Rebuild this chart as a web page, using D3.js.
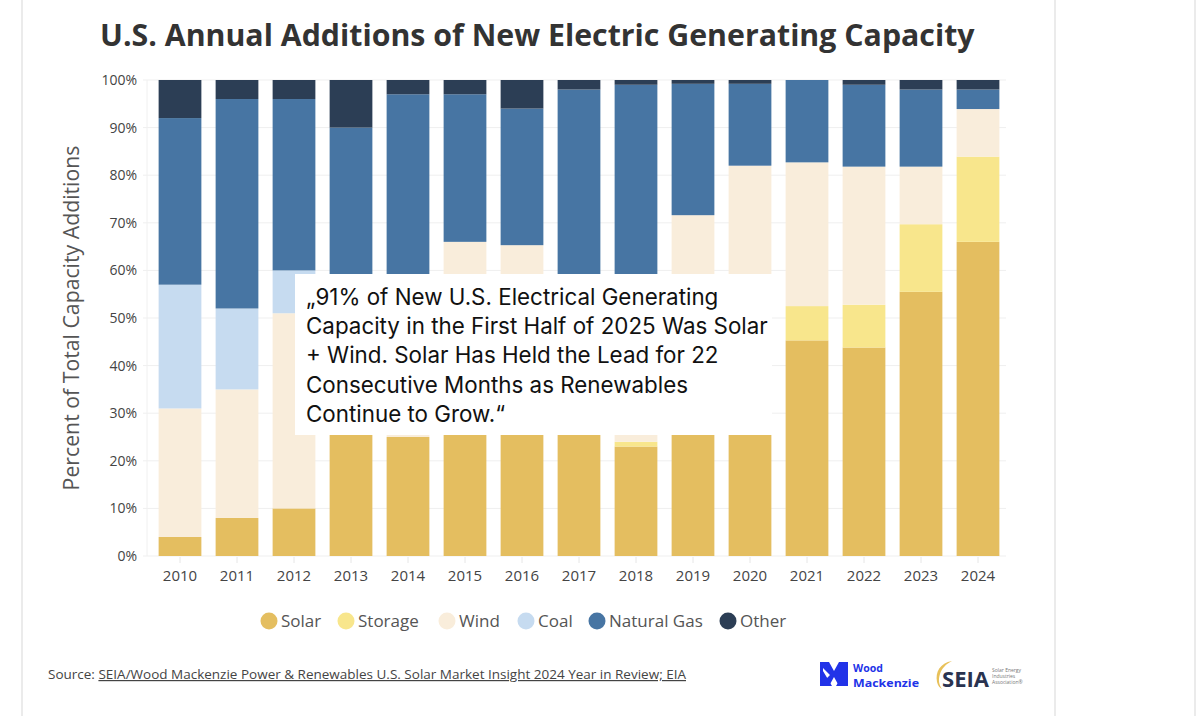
<!DOCTYPE html>
<html lang="en">
<head>
  <meta charset="UTF-8">
  <title>U.S. Annual Additions of New Electric Generating Capacity</title>
  <script src="https://d3js.org/d3.v7.min.js"></script>
  <style>
    body { margin: 0; background: #fff; }
    svg { display: block; font-family: "Open Sans", sans-serif; }
    .quote { font-family: Inter, "Noto Sans", sans-serif; }
  </style>
</head>
<body>
  <svg width="1200" height="716"></svg>

  <script>
    const width = 1200;
    const height = 716;

    // data (percent of total additions per year)
    const years   = ["2010","2011","2012","2013","2014","2015","2016","2017","2018","2019","2020","2021","2022","2023","2024"];
    const solar   = [4,   8,   10,  29,  25,  30,  39,  30,  23,  38,   43,   45.3, 43.8, 55.5, 66];
    const storage = [0,   0,   0,   0,   0,   0,   0,   0,   1,   1,    2,    7.2,  9,    14.2, 17.9];
    const wind    = [27,  27,  41,  7,   27,  36,  26.3,25,  21,  32.6, 37,   30.2, 29,   12.1, 10];
    const coal    = [26,  17,  9,   10,  1,   0,   0,   0,   0,   0,    0,    0,    0,    0,    0];
    const gas     = [35,  44,  36,  44,  44,  31,  28.7,43,  54,  27.6, 17.2, 17.3, 17.2, 16.2, 4.1];
    const other   = [8,   4,   4,   10,  3,   3,   6,   2,   1,   0.8,  0.8,  0,    1,    2,    2];

    const seriesNames = ["Solar", "Storage", "Wind", "Coal", "Natural Gas", "Other"];
    const seriesColors = ["#e4be60", "#f8e68c", "#f9eddb", "#c6dbf0", "#4775a3", "#2c3e55"];
    const yTicks = [0, 10, 20, 30, 40, 50, 60, 70, 80, 90, 100];

    const table = years.map((y, i) => ({
      year: y,
      "Solar": solar[i], "Storage": storage[i], "Wind": wind[i],
      "Coal": coal[i], "Natural Gas": gas[i], "Other": other[i]
    }));

    const svg = d3.select("svg").attr("width", width).attr("height", height);

    // frame lines of the page
    [22, 1055, 1195].forEach(x => {
      svg.append("line")
         .attr("x1", x).attr("x2", x).attr("y1", 0).attr("y2", height)
         .attr("stroke", "#e4e4e4").attr("stroke-width", 1.5);
    });

    // fit a text element to a given width by changing its font size
    function fitWidth(sel, target) {
      const fs = parseFloat(sel.attr("font-size"));
      const w = sel.node().getComputedTextLength();
      sel.attr("font-size", fs * target / w);
    }

    const title = svg.append("text")
       .attr("x", 100).attr("y", 46)
       .attr("font-size", 28).attr("font-weight", 700)
       .attr("fill", "#333")
       .text("U.S. Annual Additions of New Electric Generating Capacity");
    fitWidth(title, 875);

    const x = d3.scaleBand()
      .domain(years)
      .range([151.5, 1006.5])
      .paddingInner(0.25)
      .paddingOuter(0.125);

    const y = d3.scaleLinear().domain([0, 100]).range([556, 80]);

    // grid
    svg.append("g")
       .selectAll("line")
       .data(yTicks)
       .join("line")
       .attr("x1", 143).attr("x2", 1006)
       .attr("y1", d => y(d)).attr("y2", d => y(d))
       .attr("stroke", "#efefef").attr("stroke-width", 1);

    svg.append("line")
       .attr("x1", 147).attr("x2", 147).attr("y1", y(100)).attr("y2", y(0))
       .attr("stroke", "#f0f0f0");

    // y axis labels
    svg.append("g")
       .selectAll("text")
       .data(yTicks)
       .join("text")
       .attr("x", 137).attr("y", d => y(d))
       .attr("dy", "0.35em")
       .attr("text-anchor", "end")
       .attr("font-size", 14)
       .attr("fill", "#444")
       .text(d => d + "%");

    const yTitle = svg.append("text")
       .attr("transform", "translate(79, 318) rotate(-90)")
       .attr("text-anchor", "middle")
       .attr("font-size", 17)
       .attr("fill", "#555")
       .text("Percent of Total Capacity Additions");
    fitWidth(yTitle, 345);

    // stacked bars
    const stack = d3.stack().keys(seriesNames)(table);

    svg.append("g")
       .selectAll("g")
       .data(stack)
       .join("g")
       .attr("fill", (d, i) => seriesColors[i])
       .selectAll("rect")
       .data(d => d)
       .join("rect")
       .attr("x", d => x(d.data.year))
       .attr("width", x.bandwidth())
       .attr("y", d => y(d[1]))
       .attr("height", d => Math.max(0, y(d[0]) - y(d[1])));

    // x axis ticks + labels
    const xg = svg.append("g");
    xg.selectAll("line")
      .data(years)
      .join("line")
      .attr("x1", d => x(d) + x.bandwidth() / 2)
      .attr("x2", d => x(d) + x.bandwidth() / 2)
      .attr("y1", 557).attr("y2", 563)
      .attr("stroke", "#e6e6e6");
    xg.selectAll("text")
      .data(years)
      .join("text")
      .attr("x", d => x(d) + x.bandwidth() / 2)
      .attr("y", 576)
      .attr("dy", "0.35em")
      .attr("text-anchor", "middle")
      .attr("font-size", 15)
      .attr("fill", "#444")
      .text(d => d);

    // quote box on top of the chart
    svg.append("rect")
       .attr("x", 295).attr("y", 274)
       .attr("width", 477).attr("height", 161)
       .attr("fill", "#fff");

    const quoteLines = [
      "\u201E91% of New U.S. Electrical Generating",
      "Capacity in the First Half of 2025 Was Solar",
      "+ Wind. Solar Has Held the Lead for 22",
      "Consecutive Months as Renewables",
      "Continue to Grow.\u201C"
    ];
    const quote = svg.append("text")
       .attr("class", "quote")
       .attr("font-size", 22)
       .attr("fill", "#111");
    quote.selectAll("tspan")
       .data(quoteLines)
       .join("tspan")
       .attr("x", 306)
       .attr("y", (d, i) => 305 + i * 29.2)
       .text(d => d);
    // size the quote so the widest line spans like the reference
    const probe = quote.selectAll("tspan").nodes()[1];
    const qw = probe.getComputedTextLength();
    quote.attr("font-size", 22 * 462 / qw);

    // legend
    const legendX = [269, 346, 447, 526, 597, 728];
    const legend = svg.append("g")
       .selectAll("g")
       .data(seriesNames)
       .join("g")
       .attr("transform", (d, i) => `translate(${legendX[i]}, 621)`);
    legend.append("circle")
       .attr("r", 8.5)
       .attr("fill", (d, i) => seriesColors[i]);
    legend.append("text")
       .attr("x", 12).attr("dy", "0.35em")
       .attr("font-size", 17)
       .attr("fill", "#555")
       .text(d => d);

    // source line
    const src = svg.append("text")
       .attr("x", 48).attr("y", 679)
       .attr("font-size", 12)
       .attr("fill", "#444")
       .attr("textLength", 638)
       .attr("lengthAdjust", "spacingAndGlyphs");
    src.append("tspan").text("Source: ");
    src.append("tspan")
       .attr("text-decoration", "underline")
       .text("SEIA/Wood Mackenzie Power & Renewables U.S. Solar Market Insight 2024 Year in Review; EIA");

    // Wood Mackenzie mark
    const wm = svg.append("g").attr("transform", "translate(820, 662)");
    wm.append("path")
      .attr("d", "M0,0 L9,0 L14,9 L19,0 L28,0 L28,24 L19,24 L14,15 L9,24 L0,24 Z M3,6 L3,20 L10,13 Z")
      .attr("fill", "#2233e8");
    wm.append("path")
      .attr("d", "M0,4 L12,24 L4,24 L0,17 Z M28,4 L16,24 L24,24 L28,17 Z")
      .attr("fill", "#2233e8");
    wm.append("text").attr("x", 33).attr("y", 9.5)
      .attr("font-size", 10.5).attr("font-weight", 700).attr("fill", "#2233e8")
      .text("Wood");
    wm.append("text").attr("x", 33).attr("y", 24.5)
      .attr("font-size", 10.5).attr("font-weight", 700).attr("fill", "#2233e8")
      .attr("textLength", 66).attr("lengthAdjust", "spacingAndGlyphs")
      .text("Mackenzie");

    // SEIA mark
    const se = svg.append("g").attr("transform", "translate(934, 660)");
    se.append("path")
      .attr("d", "M18,1 C6,3 1,12 3,22 C4,26 6,28 8,29 C5,25 4,20 6,14 C8,8 12,4 18,1 Z")
      .attr("fill", "#e8c15a");
    se.append("text").attr("x", 8).attr("y", 27)
      .attr("font-size", 22).attr("font-weight", 700).attr("fill", "#2a3350")
      .attr("textLength", 47).attr("lengthAdjust", "spacingAndGlyphs")
      .text("SEIA");
    ["Solar Energy", "Industries", "Association\u00AE"].forEach((t, i) => {
      se.append("text").attr("x", 58).attr("y", 12 + i * 6)
        .attr("font-size", 5).attr("fill", "#777")
        .text(t);
    });
  </script>
</body>
</html>
